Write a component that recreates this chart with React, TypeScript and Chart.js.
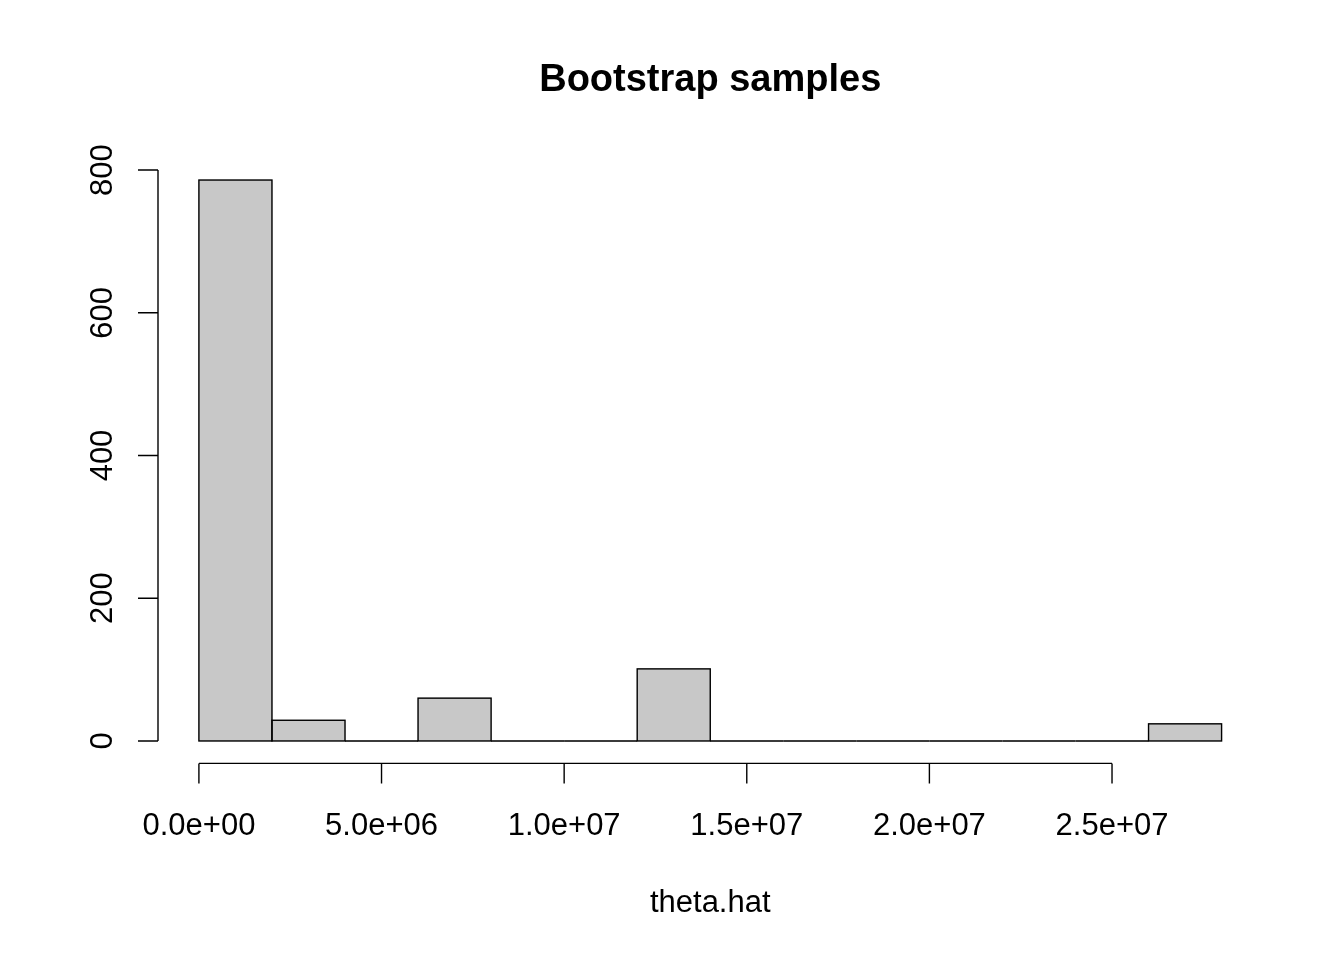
import React, { useEffect, useRef } from 'react';
import { Chart, registerables } from 'chart.js';

Chart.register(...registerables);

// histogram of theta.hat (bootstrap samples), bins of width 2e6
const binEdges = [0, 2e6, 4e6, 6e6, 8e6, 1e7, 1.2e7, 1.4e7, 1.6e7, 1.8e7, 2e7, 2.2e7, 2.4e7, 2.6e7, 2.8e7];
const binCounts = [786, 29, 0, 60, 0, 0, 101, 0, 0, 0, 0, 0, 0, 24];

const xTickValues = [0, 5e6, 1e7, 1.5e7, 2e7, 2.5e7];
const xTickLabels = ['0.0e+00', '5.0e+06', '1.0e+07', '1.5e+07', '2.0e+07', '2.5e+07'];
const yTickValues = [0, 200, 400, 600, 800];
const yTickLabels = ['0', '200', '400', '600', '800'];

const titleText = 'Bootstrap samples';
const xLabelText = 'theta.hat';

const FONT = '"Liberation Sans", Arial, Helvetica, sans-serif';

const App: React.FC = () => {
  const canvasRef = useRef<HTMLCanvasElement>(null);
  const chartRef = useRef<Chart | null>(null);

  useEffect(() => {
    if (!canvasRef.current) return;
    if (chartRef.current) chartRef.current.destroy();

    // R style: axis limits padded by 4% on each side
    const xLo = binEdges[0];
    const xHi = binEdges[binEdges.length - 1];
    const xPad = (xHi - xLo) * 0.04;
    const yHi = Math.max(...binCounts);
    const yPad = yHi * 0.04;

    const centers = binCounts.map((c, i) => ({ x: (binEdges[i] + binEdges[i + 1]) / 2, y: c }));

    // draws bar outlines (zero bins become a line), axes, labels, title
    const rStyle = {
      id: 'rStyle',
      afterDatasetsDraw(chart: any) {
        const ctx = chart.ctx;
        const meta = chart.getDatasetMeta(0);
        ctx.save();
        ctx.strokeStyle = '#000';
        ctx.lineWidth = 1.4;
        meta.data.forEach((el: any) => {
          const { x, y, base, width } = el.getProps(['x', 'y', 'base', 'width'], true);
          ctx.strokeRect(x - width / 2, y, width, base - y);
        });
        ctx.restore();
      },
      afterDraw(chart: any) {
        const ctx = chart.ctx;
        const area = chart.chartArea;
        const xs = chart.scales.x;
        const ys = chart.scales.y;
        ctx.save();
        ctx.strokeStyle = '#000';
        ctx.fillStyle = '#000';
        ctx.lineWidth = 1.4;

        // y axis
        const yAxisX = area.left;
        ctx.beginPath();
        ctx.moveTo(yAxisX, ys.getPixelForValue(yTickValues[0]));
        ctx.lineTo(yAxisX, ys.getPixelForValue(yTickValues[yTickValues.length - 1]));
        yTickValues.forEach((v) => {
          const p = ys.getPixelForValue(v);
          ctx.moveTo(yAxisX, p);
          ctx.lineTo(yAxisX - 20, p);
        });
        ctx.stroke();
        ctx.font = `31px ${FONT}`;
        ctx.textAlign = 'center';
        ctx.textBaseline = 'alphabetic';
        yTickValues.forEach((v, i) => {
          const p = ys.getPixelForValue(v);
          ctx.save();
          ctx.translate(yAxisX - 46, p);
          ctx.rotate(-Math.PI / 2);
          ctx.fillText(yTickLabels[i], 0, 0);
          ctx.restore();
        });

        // x axis
        const xAxisY = area.bottom;
        ctx.beginPath();
        ctx.moveTo(xs.getPixelForValue(xTickValues[0]), xAxisY);
        ctx.lineTo(xs.getPixelForValue(xTickValues[xTickValues.length - 1]), xAxisY);
        xTickValues.forEach((v) => {
          const p = xs.getPixelForValue(v);
          ctx.moveTo(p, xAxisY);
          ctx.lineTo(p, xAxisY + 20);
        });
        ctx.stroke();
        xTickValues.forEach((v, i) => {
          ctx.fillText(xTickLabels[i], xs.getPixelForValue(v), xAxisY + 72);
        });

        // x label and title
        const midX = (area.left + area.right) / 2;
        ctx.fillText(xLabelText, midX, xAxisY + 149);
        ctx.font = `bold 38px ${FONT}`;
        ctx.fillText(titleText, midX, 91);
        ctx.restore();
      },
    };

    chartRef.current = new Chart(canvasRef.current, {
      type: 'bar',
      data: {
        datasets: [
          {
            data: centers,
            backgroundColor: '#C8C8C8',
            borderWidth: 0,
            barPercentage: 1,
            categoryPercentage: 1,
          },
        ],
      },
      options: {
        responsive: false,
        animation: false,
        devicePixelRatio: 1,
        layout: { padding: { left: 158, right: 81.5, top: 157.6, bottom: 196.6 } },
        plugins: { legend: { display: false }, tooltip: { enabled: false }, title: { display: false } },
        scales: {
          x: { type: 'linear', offset: false, min: xLo - xPad, max: xHi + xPad, display: false },
          y: { type: 'linear', min: -yPad, max: yHi + yPad, display: false },
        },
      },
      plugins: [rStyle],
    });

    return () => {
      if (chartRef.current) {
        chartRef.current.destroy();
        chartRef.current = null;
      }
    };
  }, []);

  return (
    <div style={{ position: 'absolute', left: 0, top: 0, width: 1344, height: 960, background: '#fff' }}>
      <canvas ref={canvasRef} width={1344} height={960} style={{ width: 1344, height: 960 }} />
    </div>
  );
};

export default App;
